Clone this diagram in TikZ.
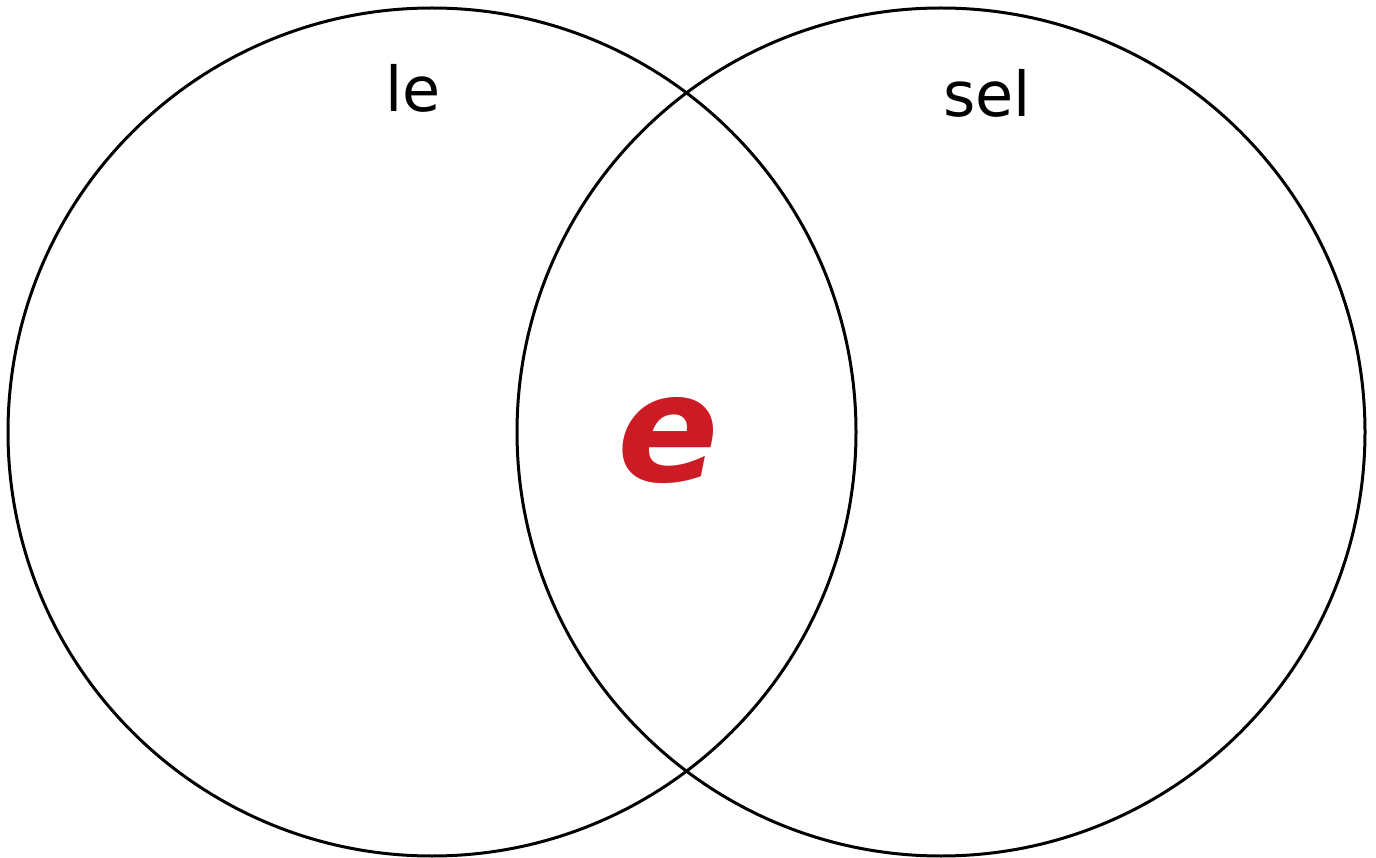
\documentclass[tikz,border=0pt]{standalone}
\usepackage{fontspec}
\setmainfont{DejaVu Sans}
\definecolor{ered}{RGB}{204,27,36}
\begin{document}
\begin{tikzpicture}[x=1pt,y=-1pt,
  setcircle/.style={draw=black,line width=3pt},
  setlabel/.style={font=\fontsize{62}{70}\selectfont,text=black,inner sep=0pt}]
\useasboundingbox (0,0) rectangle (1376,858);
\node[setcircle,circle,minimum size=848pt,inner sep=0pt] (L) at (432,432) {};
\node[setcircle,circle,minimum size=848pt,inner sep=0pt] (R) at (941,432) {};
\node[setlabel] (le) at (413,88) {le};
\node[setlabel] (sel) at (987,93) {sel};
\node[inner sep=0pt,text=ered,font=\fontsize{150}{160}\selectfont\bfseries\itshape] (e) at (668,441) {e};
\end{tikzpicture}
\end{document}
